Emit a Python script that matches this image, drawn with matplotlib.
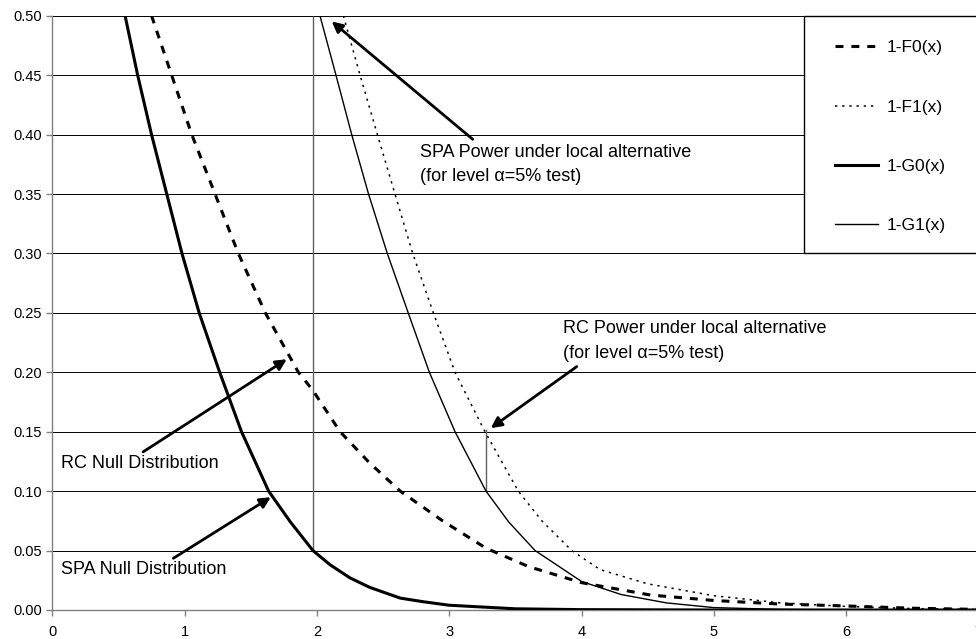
import numpy as np
import matplotlib
matplotlib.use("Agg")
import matplotlib.pyplot as plt
from matplotlib.patches import Rectangle

plt.rcParams['font.family'] = ['Liberation Sans', 'DejaVu Sans']

# 1-F0(x): RC null distribution
f0_x = [0.75, 0.902, 1.054, 1.23, 1.406, 1.61, 1.86, 1.968, 2.175, 2.4, 2.63,
        2.95, 3.278, 3.6, 4.0, 4.52, 5.0, 5.5, 6.0, 6.5, 7.0]
f0_y = [0.50, 0.45, 0.40, 0.35, 0.30, 0.25, 0.20, 0.185, 0.15, 0.1235, 0.10,
        0.075, 0.052, 0.0365, 0.023, 0.0126, 0.008, 0.005, 0.0034, 0.0015, 0.0005]

# 1-F1(x): RC power under local alternative
f1_x = [2.2, 2.326, 2.457, 2.59, 2.724, 2.88, 3.044, 3.27, 3.522, 3.7, 3.926,
        4.14, 4.5, 5.0, 5.5, 6.0, 6.5, 7.0]
f1_y = [0.50, 0.45, 0.40, 0.35, 0.30, 0.25, 0.20, 0.15, 0.10, 0.075, 0.05,
        0.034, 0.022, 0.012, 0.006, 0.003, 0.0012, 0.0004]

# 1-G0(x): SPA null distribution
g0_x = [0.55, 0.645, 0.75, 0.865, 0.98, 1.11, 1.265, 1.43, 1.635, 1.8, 1.97,
        2.1, 2.25, 2.4, 2.63, 2.8, 3.0, 3.5, 4.0, 5.0, 7.0]
g0_y = [0.50, 0.45, 0.40, 0.35, 0.30, 0.25, 0.20, 0.15, 0.10, 0.074, 0.05,
        0.038, 0.027, 0.019, 0.010, 0.007, 0.004, 0.001, 0.0003, 0.0, 0.0]

# 1-G1(x): SPA power under local alternative
g1_x = [2.023, 2.144, 2.263, 2.39, 2.532, 2.69, 2.85, 3.044, 3.278, 3.45, 3.649,
        4.0, 4.3, 4.64, 5.0, 5.5, 6.0, 7.0]
g1_y = [0.50, 0.45, 0.40, 0.35, 0.30, 0.25, 0.20, 0.15, 0.10, 0.074, 0.05,
        0.024, 0.013, 0.006, 0.002, 0.0005, 0.0, 0.0]

# critical values (vertical markers)
crit_x = [1.968, 3.278]
crit_lo = [0.05, 0.10]
crit_hi = [0.50, 0.152]

legend_labels = ['1-F0(x)', '1-F1(x)', '1-G0(x)', '1-G1(x)']

fig = plt.figure(figsize=(9.76, 6.39), dpi=100)
ax = fig.add_axes([0.0536, 0.0454, 0.9489, 0.9300])

ax.set_xlim(0, 7)
ax.set_ylim(0, 0.5)
ax.set_yticks(np.arange(0, 0.501, 0.05))
ax.set_xticks(range(8))
ax.yaxis.set_major_formatter(matplotlib.ticker.FormatStrFormatter('%.2f'))
ax.tick_params(labelsize=10.5, length=4, color='#808080', width=1)
ax.tick_params(axis='x', pad=7)
ax.yaxis.grid(True, color='black', lw=0.7)
ax.set_axisbelow(True)
for s in ['top', 'right']:
    ax.spines[s].set_visible(False)
for s in ['left', 'bottom']:
    ax.spines[s].set_color('#808080')
    ax.spines[s].set_linewidth(1)

ax.vlines(crit_x, crit_lo, crit_hi, color='#606060', lw=1, zorder=2)

l_f0, = ax.plot(f0_x, f0_y, color='black', lw=2.2, linestyle=(0, (2.6, 2.6)), zorder=3)
l_f1, = ax.plot(f1_x, f1_y, color='black', lw=1.1, linestyle=(0, (1.5, 3.2)), zorder=3)
l_g0, = ax.plot(g0_x, g0_y, color='black', lw=2.2, zorder=3)
l_g1, = ax.plot(g1_x, g1_y, color='black', lw=1.0, zorder=3)

arrow = dict(arrowstyle='-|>', lw=2, color='black', mutation_scale=16,
             shrinkA=0, shrinkB=0)
ax.annotate('', xy=(2.112, 0.4952), xytext=(3.178, 0.396), arrowprops=arrow)
ax.annotate('', xy=(3.314, 0.153), xytext=(3.964, 0.2048), arrowprops=arrow)
ax.annotate('', xy=(1.772, 0.211), xytext=(0.686, 0.133), arrowprops=arrow)
ax.annotate('', xy=(1.651, 0.0949), xytext=(0.915, 0.0435), arrowprops=arrow)

ax.text(2.779, 0.3748, 'SPA Power under local alternative\n(for level \u03b1=5% test)',
        fontsize=13, va='center', ha='left', linespacing=1.58)
ax.text(3.862, 0.2262, 'RC Power under local alternative\n(for level \u03b1=5% test)',
        fontsize=13, va='center', ha='left', linespacing=1.58)
ax.text(0.0635, 0.1229, 'RC Null Distribution', fontsize=13, va='center', ha='left')
ax.text(0.0635, 0.0337, 'SPA Null Distribution', fontsize=13, va='center', ha='left')

# legend box
box = Rectangle((803.7 / 976, (639 - 253) / 639), 0.25, (253 - 15.7) / 639,
                transform=fig.transFigure, facecolor='white', edgecolor='black',
                lw=1, zorder=4, clip_on=False)
ax.add_patch(box)
leg = ax.legend([l_f0, l_f1, l_g0, l_g1], legend_labels, loc='upper left',
                bbox_to_anchor=(835 / 976, 1 - 40 / 639), bbox_transform=fig.transFigure,
                frameon=False, borderpad=0, borderaxespad=0, fontsize=12.5,
                handlelength=2.47, handletextpad=0.52, labelspacing=2.55)
leg.set_zorder(5)

fig.savefig('out.png', dpi=100)
